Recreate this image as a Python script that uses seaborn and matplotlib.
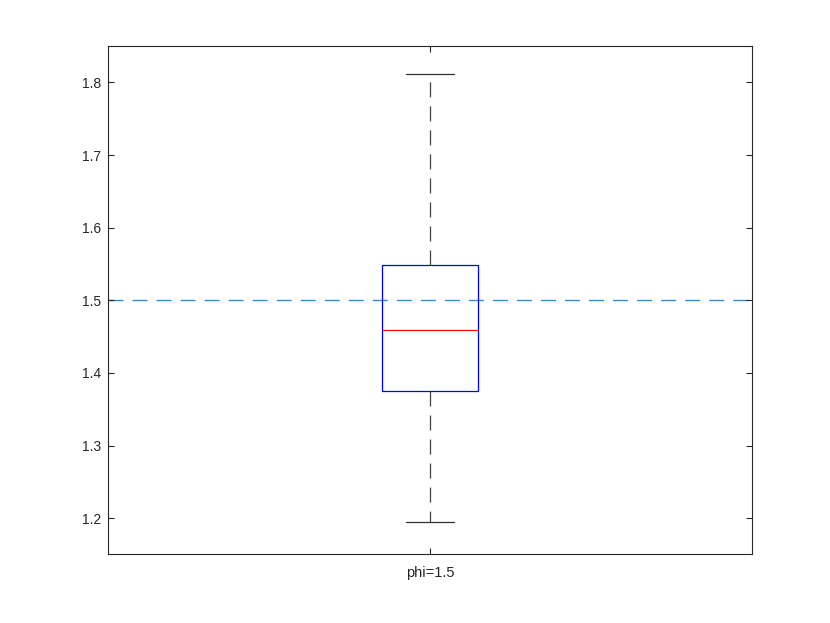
import matplotlib
matplotlib.use("Agg")
import matplotlib.pyplot as plt
import seaborn as sns
import pandas as pd

# Data (five-number summary of the sample)
category = ["phi=1.5"]
box_stats = [1.195, 1.375, 1.459, 1.549, 1.812]  # min, Q1, median, Q3, max
ref_value = 1.5
yticks = [1.2, 1.3, 1.4, 1.5, 1.6, 1.7, 1.8]

sns.set_theme(style="white")
plt.rcParams["font.family"] = ["Liberation Sans", "DejaVu Sans"]
plt.rcParams["lines.scale_dashes"] = False

df = pd.DataFrame({"group": category * len(box_stats), "value": box_stats})

fig = plt.figure(figsize=(8.3, 6.23), dpi=100)
ax = fig.add_axes([0.13, 0.11, 0.776, 0.816])

dash = (0, (10.8, 6.5))
sns.boxplot(
    data=df, x="group", y="value", ax=ax,
    width=0.15, whis=(0, 100), fill=False, showfliers=False,
    linewidth=0.8,
    boxprops=dict(color="#0000FF", linewidth=0.9),
    medianprops=dict(color="#FF0000", linewidth=0.9),
    whiskerprops=dict(color="#444444", linewidth=0.9, linestyle=dash),
    capprops=dict(color="#333333", linewidth=0.9),
)

ax.axhline(ref_value, color="#2B8FD6", linewidth=1.0, linestyle=dash, zorder=0)

ax.set_xlim(-0.5, 0.5)
ax.set_ylim(1.15, 1.85)
ax.set_yticks(yticks)
ax.set_yticklabels([f"{t:.1f}" for t in yticks])
ax.set_xlabel("")
ax.set_ylabel("")

for s in ax.spines.values():
    s.set_visible(True)
    s.set_color("#262626")
    s.set_linewidth(0.8)

ax.tick_params(axis="both", direction="in", length=4.3, width=0.8,
               color="#262626", labelcolor="#262626", labelsize=10,
               top=True, right=True, bottom=True, left=True, pad=5)
ax.tick_params(axis="x", pad=8, labelsize=10.5)

fig.savefig("out.png", dpi=100)
